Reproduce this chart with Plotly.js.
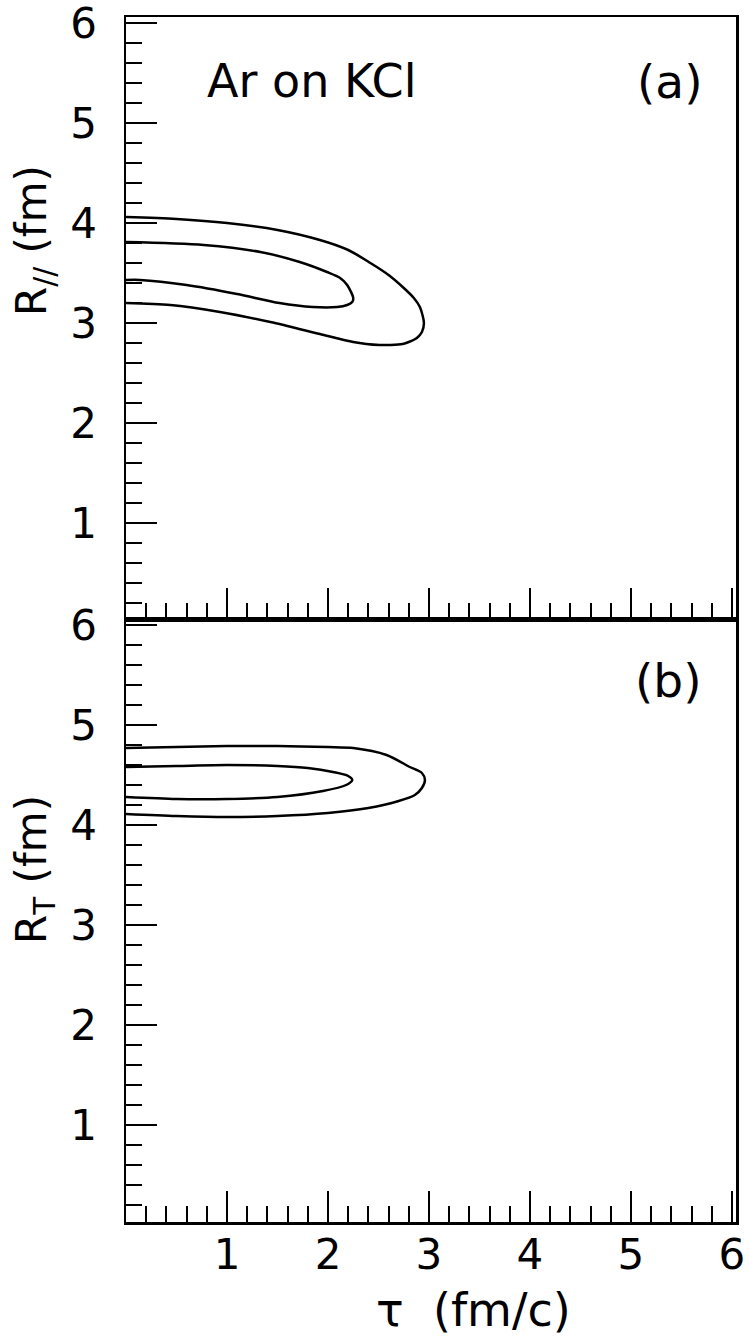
<!DOCTYPE html>
<html>
<head>
<meta charset="utf-8">
<script src="https://cdn.plot.ly/plotly-3.0.1.min.js"></script>
<style>
  body { margin: 0; background: #fff; }
  #plotArea { width: 749px; height: 1338px; }
</style>
</head>
<body>
<div id="plotArea"></div>
<script>
// Contour data: tau (fm/c) vs radius (fm)

// (a) R_parallel, outer contour
var tauParOuter = [0, 0.5, 1.0, 1.5, 1.92, 2.2, 2.42, 2.6, 2.74, 2.85, 2.91, 2.95, 2.93, 2.88, 2.80, 2.74, 2.62, 2.51, 2.38, 2.25, 1.92, 1.43, 0.93, 0.44, 0];
var rParOuter = [4.06, 4.04, 4.00, 3.93, 3.83, 3.73, 3.60, 3.48, 3.36, 3.25, 3.16, 3.00, 2.91, 2.85, 2.81, 2.79, 2.78, 2.78, 2.79, 2.81, 2.89, 3.01, 3.11, 3.18, 3.20];

// (a) R_parallel, inner contour
var tauParInner = [0, 0.77, 1.33, 1.72, 1.99, 2.12, 2.19, 2.25, 2.24, 2.19, 2.09, 1.85, 1.52, 1.10, 0.60, 0.14, 0];
var rParInner = [3.81, 3.78, 3.71, 3.61, 3.51, 3.45, 3.38, 3.25, 3.21, 3.18, 3.16, 3.16, 3.20, 3.29, 3.38, 3.43, 3.43];

// (b) R_T, outer contour
var tauTOuter = [0, 0.5, 1.0, 1.5, 2.0, 2.25, 2.58, 2.81, 2.93, 2.96, 2.93, 2.86, 2.7, 2.4, 2.0, 1.5, 1.0, 0.5, 0];
var rTOuter = [4.77, 4.78, 4.79, 4.79, 4.78, 4.77, 4.70, 4.58, 4.52, 4.45, 4.37, 4.30, 4.24, 4.17, 4.12, 4.09, 4.08, 4.09, 4.11];

// (b) R_T, inner contour
var tauTInner = [0, 0.5, 1.0, 1.5, 1.8, 2.05, 2.2, 2.24, 2.18, 1.95, 1.5, 1.0, 0.5, 0];
var rTInner = [4.58, 4.59, 4.60, 4.59, 4.57, 4.53, 4.49, 4.45, 4.40, 4.34, 4.28, 4.26, 4.26, 4.28];

var tickVals = [1, 2, 3, 4, 5, 6];

var fontFamily = "DejaVu Sans, Liberation Sans, Arial, sans-serif";
var lineStyle = {color: "black", width: 2.5, shape: "spline", smoothing: 0.8};

function contour(x, y, xa, ya) {
    return {x: x, y: y, xaxis: xa, yaxis: ya, mode: "lines", type: "scatter",
            line: lineStyle, hoverinfo: "skip", showlegend: false};
}

var data = [
    contour(tauParOuter, rParOuter, "x2", "y"),
    contour(tauParInner, rParInner, "x2", "y"),
    contour(tauTOuter, rTOuter, "x", "y2"),
    contour(tauTInner, rTInner, "x", "y2")
];

var axisBase = {
    showgrid: false, zeroline: false,
    showline: true, linecolor: "black", linewidth: 2.5, mirror: true,
    ticks: "inside", ticklen: 31, tickwidth: 2, tickcolor: "black",
    tickvals: tickVals,
    ticklabeloverflow: "allow",
    minor: {ticks: "inside", ticklen: 16, tickwidth: 2, tickcolor: "black", dtick: 0.2, tick0: 0, showgrid: false},
    tickfont: {family: fontFamily, size: 42, color: "black"}
};

function axis(extra) {
    return Object.assign({}, axisBase, extra);
}

// plot area runs from y=17 to y=1222 px, panels meet at y=619 px
var split = (1222 - 619) / 1205;

var layout = {
    width: 749,
    height: 1338,
    margin: {l: 126, r: 13, t: 17, b: 116},
    paper_bgcolor: "white",
    plot_bgcolor: "white",
    showlegend: false,
    xaxis: axis({anchor: "y2", range: [0, 6.04], ticklabelstandoff: -6}),
    xaxis2: axis({anchor: "y", matches: "x", range: [0, 6.04], showticklabels: false}),
    yaxis: axis({anchor: "x2", domain: [split, 1], range: [0.04, 6.06], ticklabelstandoff: 18}),
    yaxis2: axis({anchor: "x", domain: [0, split], range: [0.03, 6.06], ticklabelstandoff: 18}),
    annotations: [
        {text: "Ar on KCl", xref: "x2", yref: "y", x: 0.78, y: 5.42, xanchor: "left", yanchor: "middle",
         showarrow: false, font: {family: fontFamily, size: 46, color: "black"}},
        {text: "(a)", xref: "x2", yref: "y", x: 5.72, y: 5.42, xanchor: "right", yanchor: "middle",
         showarrow: false, font: {family: fontFamily, size: 47, color: "black"}},
        {text: "(b)", xref: "x", yref: "y2", x: 5.72, y: 5.45, xanchor: "right", yanchor: "middle",
         showarrow: false, font: {family: fontFamily, size: 47, color: "black"}},
        {text: "R<sub>//</sub> (fm)", xref: "paper", yref: "y", x: -0.151, y: 3.83, xanchor: "center", yanchor: "middle",
         textangle: -90, showarrow: false, font: {family: fontFamily, size: 42, color: "black"}},
        {text: "R<sub>T</sub> (fm)", xref: "paper", yref: "y2", x: -0.151, y: 3.56, xanchor: "center", yanchor: "middle",
         textangle: -90, showarrow: false, font: {family: fontFamily, size: 42, color: "black"}},
        {text: "τ\u00a0 (fm/c)", xref: "paper", yref: "paper", x: 0.57, y: -0.073, xanchor: "center", yanchor: "middle",
         showarrow: false, font: {family: fontFamily, size: 46, color: "black"}}
    ]
};

Plotly.newPlot("plotArea", data, layout, {staticPlot: true, displayModeBar: false});
</script>
</body>
</html>
